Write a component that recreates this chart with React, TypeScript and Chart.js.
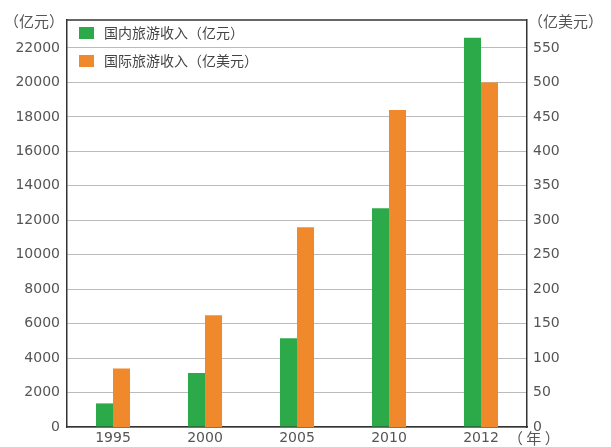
import React, { useEffect, useRef } from "react";
import { Chart, registerables } from "chart.js";

Chart.register(...registerables);

const years = ["1995", "2000", "2005", "2010", "2012"];
const domesticIncome = [1370, 3130, 5150, 12700, 22600];
const internationalIncome = [85, 162, 290, 460, 500];
const leftTicks = [0, 2000, 4000, 6000, 8000, 10000, 12000, 14000, 16000, 18000, 20000, 22000];
const rightTicks = [0, 50, 100, 150, 200, 250, 300, 350, 400, 450, 500, 550];
const seriesNames = ["国内旅游收入（亿元）", "国际旅游收入（亿美元）"];
const leftTitle = "（亿元）";
const rightTitle = "（亿美元）";
const xTitle = "（ 年 ）";

const GREEN = "#2caa4a";
const ORANGE = "#f0882c";
const TEXT = "#555";
const TICK_FONT = { family: "'DejaVu Sans', sans-serif", size: 14 };
const CJK = "'Noto Sans CJK SC', sans-serif";

const overlay = {
  id: "overlay",
  afterDraw(chart: any) {
    const { ctx, chartArea } = chart;
    ctx.save();
    ctx.strokeStyle = "#333";
    ctx.lineWidth = 1.5;
    ctx.beginPath();
    ctx.moveTo(chartArea.left, chartArea.top);
    ctx.lineTo(chartArea.right, chartArea.top);
    ctx.stroke();

    const colors = [GREEN, ORANGE];
    const ys = [33, 61];
    ctx.font = `14px ${CJK}`;
    ctx.textBaseline = "middle";
    ctx.textAlign = "left";
    seriesNames.forEach((n, i) => {
      ctx.fillStyle = colors[i];
      ctx.fillRect(79, ys[i] - 6, 15, 12);
      ctx.fillStyle = "#444";
      ctx.fillText(n, 104, ys[i]);
    });

    ctx.fillStyle = TEXT;
    ctx.font = `15px ${CJK}`;
    ctx.textAlign = "right";
    ctx.fillText(leftTitle, 64, 21);
    ctx.textAlign = "left";
    ctx.fillText(rightTitle, 528, 21);
    ctx.fillText(xTitle, 508, 438);
    ctx.restore();
  },
};

export default function App() {
  const ref = useRef<HTMLCanvasElement>(null);
  useEffect(() => {
    document.body.style.margin = "0";
    const chart = new Chart(ref.current!, {
      type: "bar",
      data: {
        labels: years,
        datasets: [
          {
            label: seriesNames[0],
            data: domesticIncome,
            backgroundColor: GREEN,
            yAxisID: "yL",
            barPercentage: 1,
            categoryPercentage: 0.37,
          },
          {
            label: seriesNames[1],
            data: internationalIncome,
            backgroundColor: ORANGE,
            yAxisID: "yR",
            barPercentage: 1,
            categoryPercentage: 0.37,
          },
        ],
      },
      options: {
        responsive: false,
        animation: false,
        layout: { padding: { top: 20, left: 0, right: 0, bottom: 0 } },
        plugins: { legend: { display: false }, tooltip: { enabled: false } },
        scales: {
          x: {
            grid: { display: false, drawTicks: false },
            border: { color: "#333", width: 1.5 },
            ticks: { color: TEXT, font: TICK_FONT, padding: 3, maxRotation: 0 },
            afterFit: (s: any) => {
              s.height = 20;
            },
          },
          yL: {
            type: "linear",
            position: "left",
            min: 0,
            max: 23625,
            ticks: {
              autoSkip: false,
              color: TEXT,
              font: TICK_FONT,
              padding: 7,
              callback: (v: any) => String(v),
            },
            afterBuildTicks: (s: any) => {
              s.ticks = leftTicks.map((v) => ({ value: v }));
            },
            grid: { color: "#bbb", lineWidth: 1, drawTicks: false },
            border: { color: "#333", width: 1.5 },
            afterFit: (s: any) => {
              s.width = 67;
            },
          },
          yR: {
            type: "linear",
            position: "right",
            min: 0,
            max: 590.6,
            ticks: {
              autoSkip: false,
              color: TEXT,
              font: TICK_FONT,
              padding: 6,
              callback: (v: any) => String(v),
            },
            afterBuildTicks: (s: any) => {
              s.ticks = rightTicks.map((v) => ({ value: v }));
            },
            grid: { display: false, drawTicks: false },
            border: { color: "#333", width: 1.5 },
            afterFit: (s: any) => {
              s.width = 84;
            },
          },
        },
      },
      plugins: [overlay],
    });
    return () => chart.destroy();
  }, []);
  return <canvas ref={ref} width={611} height={447} style={{ display: "block" }} />;
}
